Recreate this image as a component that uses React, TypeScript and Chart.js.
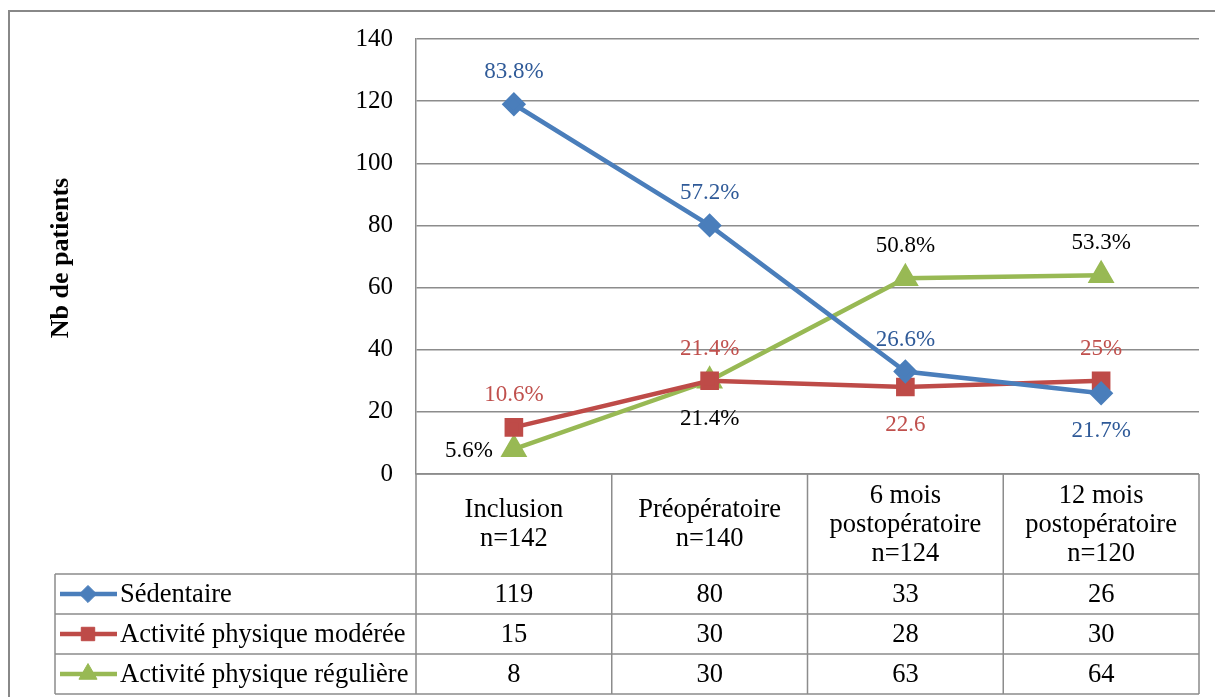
import React, { useEffect, useRef } from "react";
import { Chart, registerables } from "chart.js";
import { drawPoint } from "chart.js/helpers";

Chart.register(...registerables);

// Time points, with group size
const categories: string[][] = [
  ["Inclusion", "n=142"],
  ["Préopératoire", "n=140"],
  ["6 mois", "postopératoire", "n=124"],
  ["12 mois", "postopératoire", "n=120"],
];

// Number of patients per activity level
const sedentaire = [119, 80, 33, 26];
const moderee = [15, 30, 28, 30];
const reguliere = [8, 30, 63, 64];

// Percentages shown next to each point
const sedentaireLabels = ["83.8%", "57.2%", "26.6%", "21.7%"];
const modereeLabels = ["10.6%", "21.4%", "22.6", "25%"];
const reguliereLabels = ["5.6%", "21.4%", "50.8%", "53.3%"];

const seriesNames = ["Sédentaire", "Activité physique modérée", "Activité physique régulière"];
const yTicks = [0, 20, 40, 60, 80, 100, 120, 140];

const SERIF = "'Liberation Serif', 'Times New Roman', serif";
const GRID = "#8c8c8c";

type Place = "above" | "below" | "left";
const labelPlaces: Place[][] = [
  ["above", "above", "above", "below"],
  ["above", "above", "below", "above"],
  ["left", "below", "above", "above"],
];
const labelColors = ["#2f5a98", "#c0504d", "#000000"];
const pointLabels = [sedentaireLabels, modereeLabels, reguliereLabels];

const frameAndTable = {
  id: "frameAndTable",
  beforeDraw(chart: any) {
    const ctx = chart.ctx;
    ctx.save();
    ctx.strokeStyle = "#888888";
    ctx.lineWidth = 2;
    ctx.strokeRect(9, 11, 1300, 1000);
    ctx.restore();
  },
  afterDraw(chart: any) {
    const ctx = chart.ctx;
    const area = chart.chartArea;
    const x = chart.scales.x;
    const colW = (area.right - area.left) / categories.length;
    const headerBottom = area.bottom + 100;
    const rowH = 40;
    const legendLeft = 55;
    const tableBottom = headerBottom + rowH * seriesNames.length;

    ctx.save();
    ctx.strokeStyle = GRID;
    ctx.lineWidth = 1.5;
    ctx.beginPath();
    for (let i = 0; i <= categories.length; i++) {
      const xx = area.left + i * colW;
      ctx.moveTo(xx, area.bottom);
      ctx.lineTo(xx, tableBottom);
    }
    ctx.moveTo(area.left, area.bottom);
    ctx.lineTo(area.right, area.bottom);
    for (let r = 0; r <= seriesNames.length; r++) {
      const yy = headerBottom + r * rowH;
      ctx.moveTo(legendLeft, yy);
      ctx.lineTo(area.right, yy);
    }
    ctx.moveTo(legendLeft, headerBottom);
    ctx.lineTo(legendLeft, tableBottom);
    ctx.stroke();

    // Header cells
    ctx.fillStyle = "#000";
    ctx.font = `26.5px ${SERIF}`;
    ctx.textAlign = "center";
    ctx.textBaseline = "middle";
    const headerMid = area.bottom + 51;
    const lineH = 29;
    categories.forEach((lines, i) => {
      const cx = x.getPixelForValue(i);
      const y0 = headerMid - ((lines.length - 1) * lineH) / 2;
      lines.forEach((t, k) => ctx.fillText(t, cx, y0 + k * lineH));
    });

    // Data rows with legend keys
    chart.data.datasets.forEach((ds: any, r: number) => {
      const cy = headerBottom + r * rowH + rowH / 2;
      ctx.strokeStyle = ds.borderColor;
      ctx.lineWidth = ds.borderWidth;
      ctx.beginPath();
      ctx.moveTo(60, cy);
      ctx.lineTo(117, cy);
      ctx.stroke();
      ctx.fillStyle = ds.pointBackgroundColor;
      ctx.strokeStyle = ds.pointBackgroundColor;
      ctx.lineWidth = 1;
      drawPoint(ctx, { pointStyle: ds.pointStyle, radius: ds.pointRadius * 0.95, rotation: 0, borderWidth: 1 }, 88, cy);

      ctx.fillStyle = "#000";
      ctx.font = `26.5px ${SERIF}`;
      ctx.textAlign = "left";
      ctx.fillText(seriesNames[r], 120, cy + 1);
      ctx.textAlign = "center";
      (ds.data as number[]).forEach((v, i) => {
        ctx.fillText(String(v), x.getPixelForValue(i), cy + 1);
      });
    });

    // Axis title
    ctx.translate(61, 258);
    ctx.rotate(-Math.PI / 2);
    ctx.font = `bold 26px ${SERIF}`;
    ctx.textAlign = "center";
    ctx.fillText("Nb de patients", 0, 0);
    ctx.restore();
  },
};

const pointValueLabels = {
  id: "pointValueLabels",
  afterDatasetsDraw(chart: any) {
    const ctx = chart.ctx;
    ctx.save();
    ctx.font = `23px ${SERIF}`;
    ctx.textBaseline = "middle";
    chart.data.datasets.forEach((_ds: any, d: number) => {
      const meta = chart.getDatasetMeta(d);
      meta.data.forEach((pt: any, i: number) => {
        const place = labelPlaces[d][i];
        ctx.fillStyle = labelColors[d];
        if (place === "left") {
          ctx.textAlign = "right";
          ctx.fillText(pointLabels[d][i], pt.x - 21, pt.y + 2);
        } else {
          ctx.textAlign = "center";
          const dy = place === "above" ? -32 : 38;
          ctx.fillText(pointLabels[d][i], pt.x, pt.y + dy);
        }
      });
    });
    ctx.restore();
  },
};

export default function App() {
  const canvasRef = useRef<HTMLCanvasElement>(null);

  useEffect(() => {
    if (!canvasRef.current) return;
    const chart = new Chart(canvasRef.current, {
      type: "line",
      data: {
        labels: categories,
        datasets: [
          {
            label: seriesNames[0],
            data: sedentaire,
            borderColor: "#4a7ebb",
            backgroundColor: "#4a7ebb",
            pointBackgroundColor: "#4a7ebb",
            pointBorderColor: "#4a7ebb",
            borderWidth: 4.5,
            pointStyle: "rectRot",
            pointRadius: 9,
            tension: 0,
          },
          {
            label: seriesNames[1],
            data: moderee,
            borderColor: "#be4b48",
            backgroundColor: "#be4b48",
            pointBackgroundColor: "#be4b48",
            pointBorderColor: "#be4b48",
            borderWidth: 4.5,
            pointStyle: "rect",
            pointRadius: 10,
            tension: 0,
          },
          {
            label: seriesNames[2],
            data: reguliere,
            borderColor: "#98b954",
            backgroundColor: "#98b954",
            pointBackgroundColor: "#98b954",
            pointBorderColor: "#98b954",
            borderWidth: 4.5,
            pointStyle: "triangle",
            pointRadius: 11,
            tension: 0,
          },
        ],
      },
      options: {
        animation: false,
        responsive: false,
        layout: { padding: { left: 0, top: 39, right: 16, bottom: 223 } },
        plugins: { legend: { display: false }, tooltip: { enabled: false } },
        scales: {
          x: { type: "category", offset: true, display: false },
          y: {
            min: yTicks[0],
            max: yTicks[yTicks.length - 1],
            afterFit: (s: any) => {
              s.width = 416;
            },
            afterBuildTicks: (s: any) => {
              s.ticks = yTicks.map((v) => ({ value: v }));
            },
            grid: { color: GRID, lineWidth: 1.5, drawTicks: false },
            border: { display: true, color: GRID, width: 1.5 },
            ticks: {
              padding: 23,
              color: "#000",
              font: { family: SERIF, size: 25 },
            },
          },
        },
      },
      plugins: [frameAndTable, pointValueLabels],
    });
    return () => chart.destroy();
  }, []);

  return (
    <div style={{ position: "fixed", left: 0, top: 0, width: 1215, height: 697, background: "#fff" }}>
      <canvas ref={canvasRef} width={1215} height={697} />
    </div>
  );
}
